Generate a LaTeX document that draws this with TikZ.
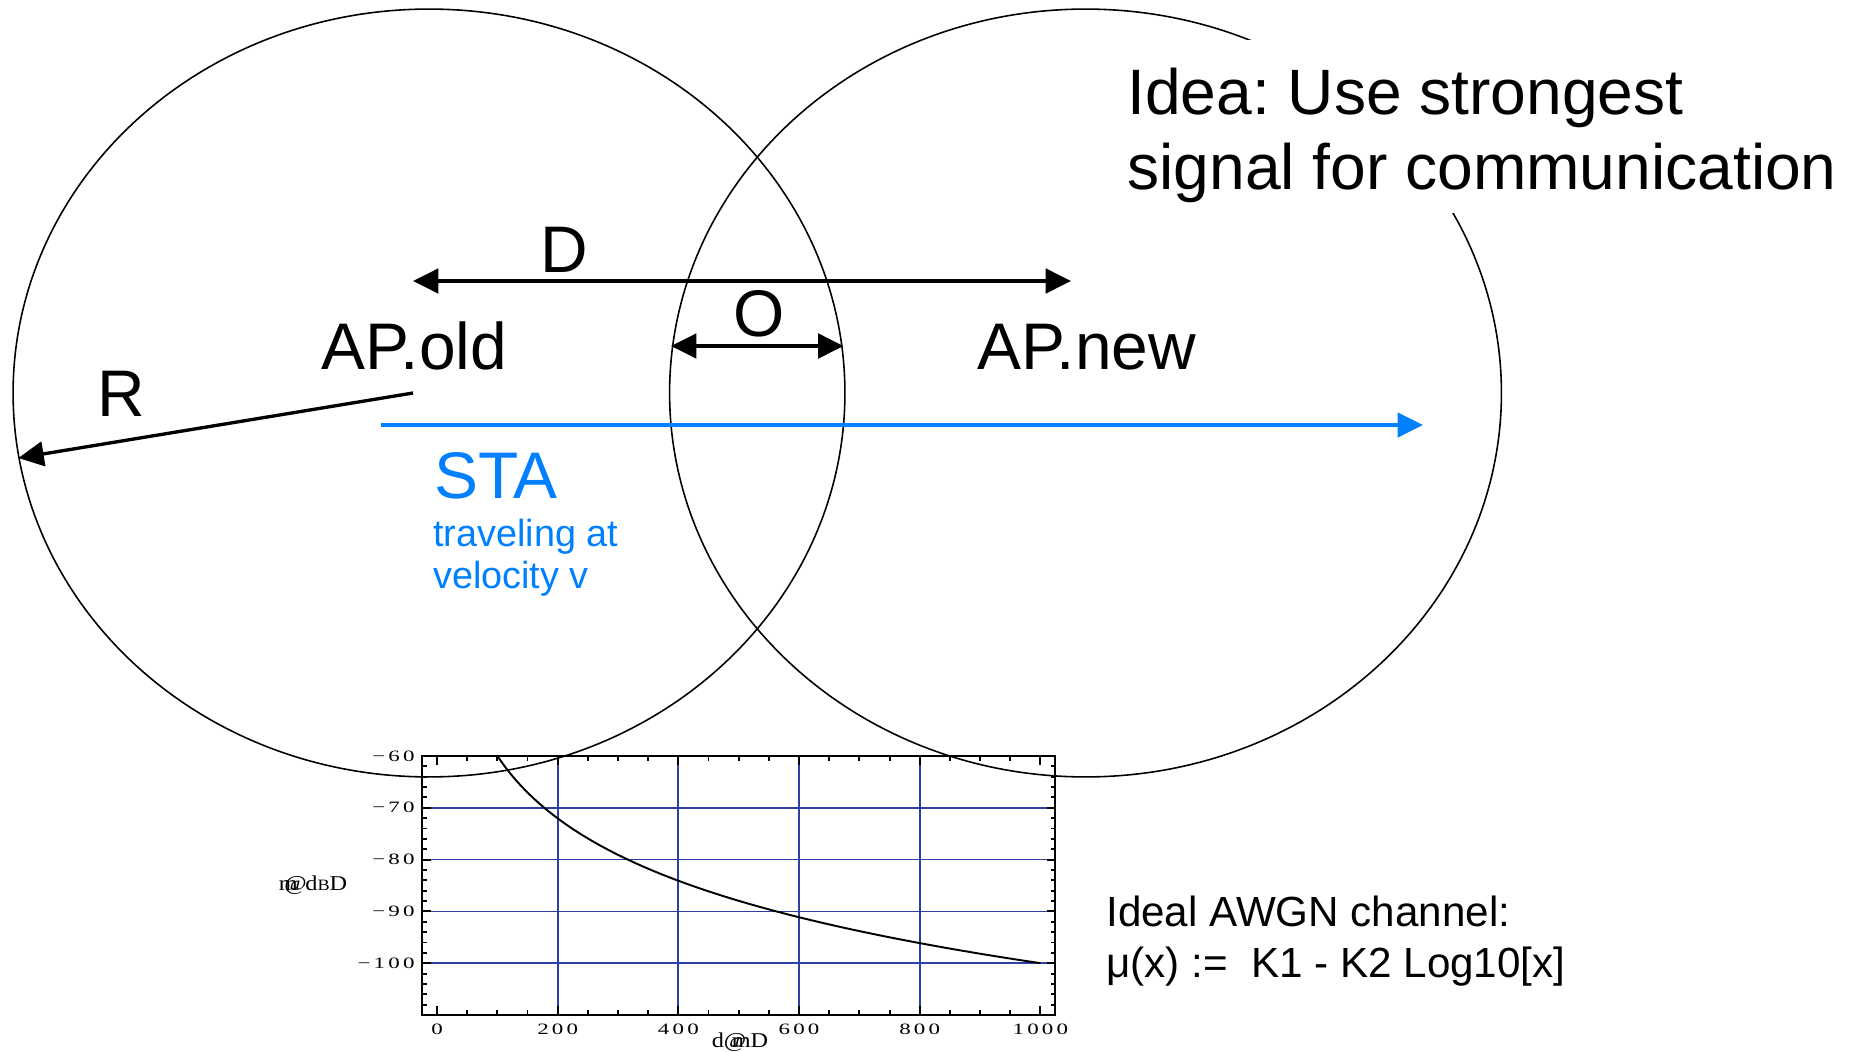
\documentclass[tikz,border=0pt]{standalone}
\usepackage{graphicx}
\usepackage{fontspec}
\setmainfont{Liberation Sans}
\newfontfamily\tickfont[LetterSpace=14]{Liberation Serif}
\newfontfamily\axisfont{Liberation Serif}
\newcommand{\widetick}[1]{\scalebox{1.45}[1]{#1}}
\usepackage{tikz}
\usetikzlibrary{arrows.meta,positioning,shapes.geometric}
\definecolor{stablue}{HTML}{0080FF}
\definecolor{gridblue}{HTML}{2B3FA6}
\frenchspacing

\begin{document}
\begin{tikzpicture}[
  x=0.02cm, y=-0.02cm,
  cell/.style={ellipse,draw=black,line width=0.9pt,inner sep=0pt,
    minimum width=16.64cm,minimum height=15.36cm},
  biglabel/.style={inner sep=0pt,font=\fontsize{37.5}{42}\selectfont},
  ideabox/.style={fill=white,inner xsep=8pt,inner ysep=5.8pt,align=left,
    font=\fontsize{36.5}{42.4}\selectfont},
  note/.style={inner sep=0pt,align=left},
  arrow/.style={-{Triangle[length=14.5pt,width=14pt]},line width=1.9pt},
  dblarrow/.style={{Triangle[length=14.5pt,width=14pt]}-{Triangle[length=14.5pt,width=14pt]},line width=1.9pt},
  frame/.style={line width=1.1pt},
  gridline/.style={gridblue,line width=1pt},
  curve/.style={line width=1.1pt},
  ticklabel/.style={inner sep=0pt,font=\tickfont\fontsize{9}{10}\selectfont},
  axislabel/.style={inner sep=0pt,font=\axisfont\fontsize{12}{12}\selectfont},
]
\useasboundingbox (0,0) rectangle (1851,1051);

% Path loss plot
\begin{scope}[shift={(437,756)},x=0.01207cm,y=0.1036cm,shift={(0,60)}]
  \foreach \gx in {200,400,600,800}
    \draw[gridline] (\gx,-60) -- (\gx,-110);
  \foreach \gy in {-70,-80,-90,-100}
    \draw[gridline] (-25,\gy) -- (1025,\gy);
  \draw[frame] (-25,-60) rectangle (1025,-110);
  % ticks
  \foreach \tx in {50,100,...,950} {
    \draw[frame] (\tx,-110) -- ++(0,2.8pt);
    \draw[frame] (\tx,-60) -- ++(0,-2.8pt);
  }
  \foreach \tx in {0,200,...,1000} {
    \draw[frame] (\tx,-110) -- ++(0,5pt);
    \draw[frame] (\tx,-60) -- ++(0,-5pt);
    \node[ticklabel,below=5pt] (xt\tx) at (\tx,-110) {\widetick{\tx}};
  }
  \foreach \ty in {-62,-64,...,-108} {
    \draw[frame] (-25,\ty) -- ++(2.8pt,0);
    \draw[frame] (1025,\ty) -- ++(-2.8pt,0);
  }
  \foreach \tv in {60,70,80,90,100} {
    \draw[frame] (-25,-\tv) -- ++(5pt,0);
    \draw[frame] (1025,-\tv) -- ++(-5pt,0);
    \node[ticklabel,left=4pt] (yt\tv) at (-25,-\tv) {\widetick{−\tv}};
  }
  \draw[curve] plot[domain=100:1000,samples=60,smooth] (\x,{20-40*log10(\x)});
\end{scope}
\node[axislabel] (ylab) at (313,885) {\scalebox{1.15}[1]{m\kern-0.55em@\kern-0.05em d{\fontsize{9}{9}\selectfont B}D}};
\node[axislabel] (xlab) at (740,1042) {\scalebox{1.15}[1]{d@\kern-0.6em mD}};

% Coverage cells
\node[cell] (oldcell) at (429,393) {};
\node[cell] (newcell) at (1085.5,393) {};

% Distances
\coordinate (dleft) at (413,281);
\coordinate (dright) at (1071,281);
\coordinate (oleft) at (671,346);
\coordinate (oright) at (843.5,346);
\coordinate (rstart) at (413,393);
\draw[dblarrow] (dleft) -- (dright);
\draw[dblarrow] (oleft) -- (oright);
\draw[arrow] (rstart) -- (oldcell.189);

% Station path
\coordinate (stastart) at (381,425);
\coordinate (staend) at (1423,425);
\draw[arrow,stablue,line width=1.8pt] (stastart) -- (staend);

% Labels
\node[biglabel,anchor=base] (dlbl) at (564,272.7) {D};
\node[biglabel,anchor=base] (olbl) at (759,336.5) {O};
\node[biglabel,anchor=base] (rlbl) at (121,416.7) {R};
\node[biglabel,anchor=base west] (apold) at (321,369.5) {AP.old};
\node[biglabel,anchor=base west] (apnew) at (977,369.5) {AP.new};
\node[biglabel,anchor=base west,text=stablue] (sta) at (434,498) {STA};
\node[note,anchor=west,text=stablue,font=\fontsize{21.5}{24.1}\selectfont] (velo) at (433,558) {traveling at\\velocity v};

% Channel model
\node[note,anchor=west,font=\fontsize{24}{28.9}\selectfont] (awgn) at (1106,941.2) {Ideal AWGN channel:\\μ(x) :=~~K1 - K2 Log10[x]};

% Idea
\node[ideabox,anchor=west] (idea) at (1113,126.5) {\rule{0pt}{36.6pt}Idea: Use strongest\\signal for communication};

\end{tikzpicture}
\end{document}
